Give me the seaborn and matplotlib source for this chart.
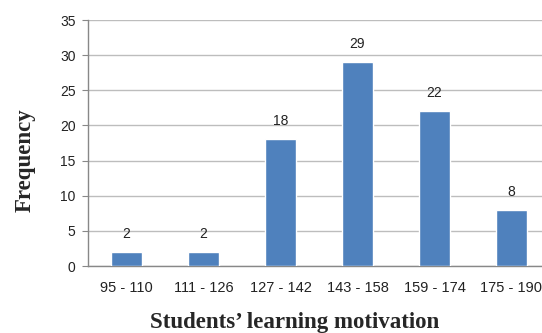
import matplotlib
matplotlib.use("Agg")
import matplotlib.pyplot as plt
import seaborn as sns
import pandas as pd

# data
categories = ['95 - 110', '111 - 126', '127 - 142', '143 - 158', '159 - 174', '175 - 190']
frequency = [2, 2, 18, 29, 22, 8]

df = pd.DataFrame({'range': categories, 'freq': frequency})

sns.set_style('white')
plt.rcParams['font.family'] = ['Liberation Sans', 'DejaVu Sans']

fig = plt.figure(figsize=(5.42, 3.33), dpi=100)
# axes runs past the right edge, as in the cropped original
ax = fig.add_axes([88 / 542, 67 / 333, 462 / 542, 246 / 333])

sns.barplot(data=df, x='range', y='freq', color='#4F81BD', width=0.4,
            saturation=1, ax=ax, zorder=3)

# value labels
for i, v in enumerate(frequency):
    ax.text(i, v + 1.6, str(v), ha='center', va='bottom', fontsize=10, color='#222222')

ax.set_ylim(0, 35)
ax.set_xlim(-0.5, 5.5)
ax.set_yticks(range(0, 36, 5))
ax.yaxis.grid(True, color='#BDBDBD', linewidth=1, zorder=0)

# tick marks between categories
ax.set_xticks([x - 0.5 for x in range(7)], minor=True)
ax.tick_params(axis='x', which='major', length=0, labelsize=10.5, pad=11, colors='#222222')
ax.tick_params(axis='x', which='minor', length=5, color='#888888', direction='out')
ax.tick_params(axis='y', length=4, color='#888888', labelsize=10, colors='#222222', pad=5)
ax.tick_params(axis='y', which='major', left=True)

for side in ['top', 'right']:
    ax.spines[side].set_visible(False)
for side in ['left', 'bottom']:
    ax.spines[side].set_color('#888888')
    ax.spines[side].set_linewidth(1)

ax.set_xlabel('')
ax.set_ylabel('')
fig.text(295 / 542, 5 / 333, 'Students\u2019 learning motivation', fontsize=16.5, fontweight='bold',
         family='Liberation Serif', ha='center', va='baseline')
fig.text(31 / 542, 1 - 160 / 333, 'Frequency', fontsize=16.5, fontweight='bold',
         family='Liberation Serif', rotation=90, rotation_mode='anchor', ha='center', va='baseline')

fig.savefig('out.png', dpi=100)
